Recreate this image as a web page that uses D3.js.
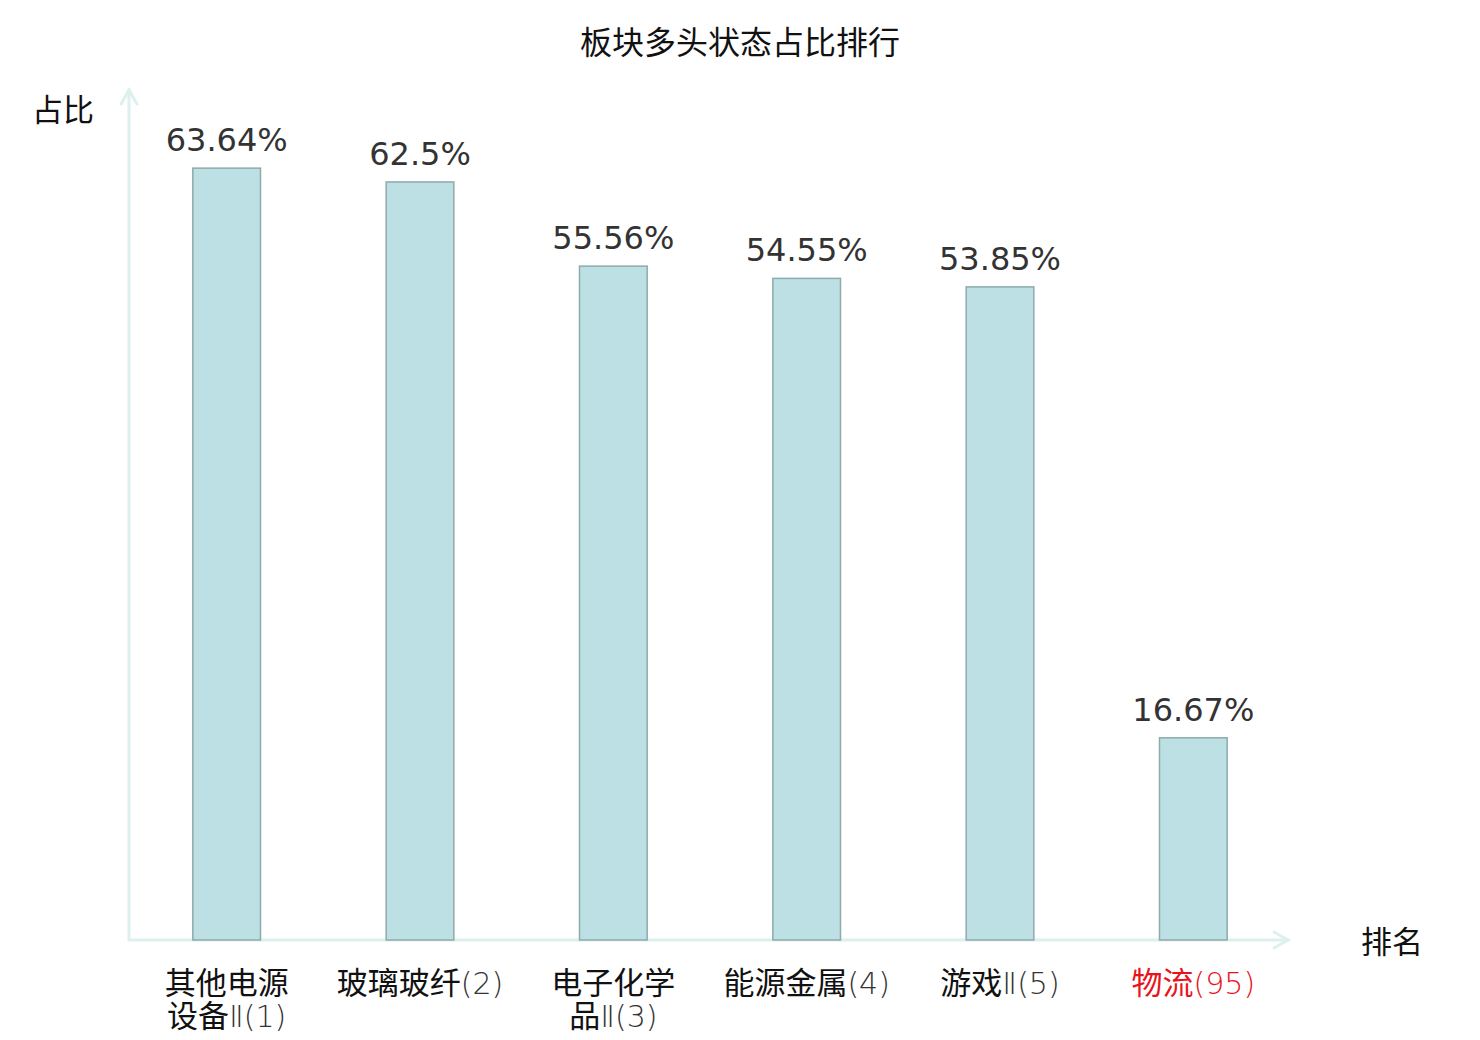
<!DOCTYPE html>
<html>
<head>
<meta charset="utf-8">
<script src="https://cdn.jsdelivr.net/npm/d3@7"></script>
<style>
  body { margin: 0; background: #fff; }
  svg { display: block; }
</style>
</head>
<body>
<div id="chart"></div>
<script>
// data
const names = ["其他电源设备Ⅱ", "玻璃玻纤", "电子化学品Ⅱ", "能源金属", "游戏Ⅱ", "物流"];
const ranks = [1, 2, 3, 4, 5, 95];
const values = [63.64, 62.5, 55.56, 54.55, 53.85, 16.67];
// how the long names wrap onto two lines
const lines = [["其他电源", "设备Ⅱ"], ["玻璃玻纤"], ["电子化学", "品Ⅱ"], ["能源金属"], ["游戏Ⅱ"], ["物流"]];
const highlight = [false, false, false, false, false, true];

const W = 1480, H = 1040;
const cjk = "'Noto Sans CJK SC', 'Noto Sans', sans-serif";
const latinLight = "'DejaVu Sans', sans-serif";
const axisColor = "#dcf1ee";

const svg = d3.select("#chart").append("svg")
  .attr("width", W)
  .attr("height", H);

const x = d3.scaleBand()
  .domain(d3.range(names.length))
  .range([130, 1290])
  .paddingInner(0.65)
  .paddingOuter(0.325);

const y = d3.scaleLinear()
  .domain([0, 70])
  .range([940, 91]);

// title
svg.append("text")
  .attr("x", 740).attr("y", 54)
  .attr("text-anchor", "middle")
  .style("font-family", cjk)
  .style("font-size", "32px")
  .style("fill", "#111")
  .text("板块多头状态占比排行");

// axes with arrowheads
const axes = svg.append("g")
  .attr("fill", "none")
  .attr("stroke", axisColor)
  .attr("stroke-width", 3)
  .attr("stroke-linecap", "round")
  .attr("stroke-linejoin", "round");

axes.append("line")
  .attr("x1", 129).attr("y1", y(0))
  .attr("x2", 129).attr("y2", 89);
axes.append("path")
  .attr("d", `M121,104 L129,90 L137,104`);

axes.append("line")
  .attr("x1", 129).attr("y1", y(0))
  .attr("x2", 1289).attr("y2", y(0));
axes.append("path")
  .attr("d", `M1274,932 L1288,940 L1274,948`);

svg.append("text")
  .attr("x", 63).attr("y", 121)
  .attr("text-anchor", "middle")
  .style("font-family", cjk)
  .style("font-size", "31px")
  .style("fill", "#111")
  .text("占比");

svg.append("text")
  .attr("x", 1392).attr("y", 953)
  .attr("text-anchor", "middle")
  .style("font-family", cjk)
  .style("font-size", "31px")
  .style("fill", "#111")
  .text("排名");

// bars
svg.append("g")
  .selectAll("rect")
  .data(values)
  .join("rect")
  .attr("x", (d, i) => x(i))
  .attr("y", d => y(d))
  .attr("width", x.bandwidth())
  .attr("height", d => y(0) - y(d))
  .attr("fill", "#bce0e3")
  .attr("stroke", "#8eaaab")
  .attr("stroke-width", 1.5);

// value labels
svg.append("g")
  .selectAll("text")
  .data(values)
  .join("text")
  .attr("x", (d, i) => x(i) + x.bandwidth() / 2)
  .attr("y", d => y(d) - 17)
  .attr("text-anchor", "middle")
  .style("font-family", "'DejaVu Sans', sans-serif")
  .style("font-size", "32px")
  .style("fill", "#333")
  .text(d => d + "%");

// category labels
const cats = svg.append("g")
  .selectAll("text")
  .data(names.map((n, i) => ({ i, rank: ranks[i], lines: lines[i], red: highlight[i] })))
  .join("text")
  .attr("text-anchor", "middle")
  .style("font-family", cjk)
  .style("font-size", "31px")
  .style("fill", d => d.red ? "#e8141b" : "#111");

cats.each(function (d) {
  const t = d3.select(this);
  const cx = x(d.i) + x.bandwidth() / 2;
  d.lines.forEach((ln, k) => {
    const last = k === d.lines.length - 1;
    const roman = ln.endsWith("Ⅱ");
    const main = roman ? ln.slice(0, -1) : ln;
    const line = t.append("tspan")
      .attr("x", cx)
      .attr("y", 994 + k * 33)
      .text(main);
    const tail = (roman ? "Ⅱ" : "") + (last ? `(${d.rank})` : "");
    if (tail) {
      line.append("tspan")
        .style("font-family", latinLight)
        .style("font-weight", 200)
        .style("font-size", "30px")
        .style("fill", d.red ? "#e8141b" : "#333")
        .text(tail);
    }
  });
});
</script>
</body>
</html>
